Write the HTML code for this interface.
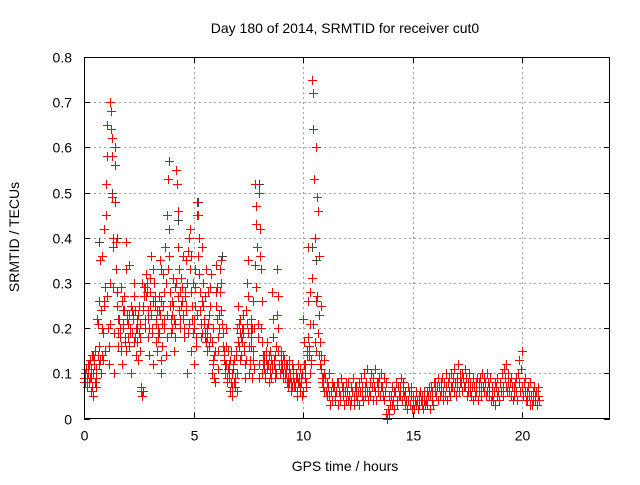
<!DOCTYPE html>
<html><head><meta charset="utf-8"><style>
body{margin:0;background:#fff}
svg text{font-family:"Liberation Sans",sans-serif;font-size:14px;fill:#000}
</style></head><body>
<svg id="chart" width="640" height="480" xmlns="http://www.w3.org/2000/svg">
<text x="345" y="33" text-anchor="middle">Day 180 of 2014, SRMTID for receiver cut0</text>
<text x="345" y="471" text-anchor="middle">GPS time / hours</text>
<text transform="translate(19,237) rotate(-90)" text-anchor="middle">SRMTID / TECUs</text>
<g id="grid"></g>
<g id="ticks"></g>
<g id="gray"></g>
<g id="red"></g>
<rect x="84.5" y="57.5" width="525" height="361" fill="none" stroke="#000" stroke-width="1"/>
</svg>
<script>
const xTicks=[0,5,10,15,20];
const yTicks=[0,0.1,0.2,0.3,0.4,0.5,0.6,0.7,0.8];
const yTickLabels=["0","0.1","0.2","0.3","0.4","0.5","0.6","0.7","0.8"];
const binStarts=[0,0.2,0.4,0.6,0.8,1.0,1.2,1.4,1.6,1.8,2.0,2.2,2.4,2.6,2.8,3.0,3.2,3.4,3.6,3.8,4.0,4.2,4.4,4.6,4.8,5.0,5.2,5.4,5.6,5.8,6.0,6.2,6.4,6.6,6.8,7.0,7.2,7.4,7.6,7.8,8.0,8.2,8.4,8.6,8.8,9.0,9.2,9.4,9.6,9.8,10.0,10.2,10.4,10.6,10.8,11.0,11.2,11.4,11.6,11.8,12.0,12.2,12.4,12.6,12.8,13.0,13.2,13.4,13.6,13.8,14.0,14.2,14.4,14.6,14.8,15.0,15.2,15.4,15.6,15.8,16.0,16.2,16.4,16.6,16.8,17.0,17.2,17.4,17.6,17.8,18.0,18.2,18.4,18.6,18.8,19.0,19.2,19.4,19.6,19.8,20.0,20.2,20.4,20.6];
const redValues=[
[.09,.10,.08,.11,.07,.12],[.10,.08,.13,.06,.09,.14],[.14,.05,.12,.15,.09,.07],[.22,.14,.26,.12,.35,.10],[.20,.36,.13,.42,.26,.15],
[.52,.58,.65,.20,.12,.30],[.70,.68,.62,.49,.40,.29,.10],[.60,.56,.39,.28,.16,.22],[.22,.18,.29,.15,.12,.24],[.20,.27,.17,.33,.39,.22],
[.18,.23,.34,.20,.10,.25],[.19,.23,.30,.17,.24,.14],[.22,.20,.13,.25,.18,.15],[.06,.05,.30,.25,.27,.20],[.29,.32,.28,.22,.18,.14],
[.25,.31,.36,.20,.33,.12],[.30,.25,.22,.17,.15,.20],[.24,.27,.35,.13,.10,.21],[.32,.22,.28,.38,.14,.18],[.45,.53,.57,.42,.25,.19],
[.23,.26,.31,.15,.21,.29],[.55,.52,.46,.38,.33,.22],[.28,.31,.26,.36,.22,.18],[.28,.35,.25,.10,.37,.19],[.40,.42,.36,.15,.22,.30],
[.20,.12,.25,.33,.18,.45,.48],[.45,.40,.32,.24,.18,.26],[.38,.30,.22,.18,.27,.33],[.20,.15,.28,.23,.18,.29],[.32,.10,.13,.20,.14,.08],
[.28,.34,.22,.15,.11,.20],[.33,.35,.30,.21,.16,.13],[.14,.10,.20,.12,.08,.15],[.12,.09,.06,.15,.05,.10],[.11,.13,.08,.07,.15,.10],
[.20,.25,.16,.13,.22,.18],[.20,.23,.19,.15,.12,.09],[.24,.30,.35,.27,.10,.13],[.18,.22,.09,.15,.26,.20],[.52,.47,.43,.38,.18,.09],
[.50,.42,.33,.26,.10,.14],[.14,.11,.09,.13,.17,.12],[.12,.08,.10,.15,.13,.11],[.28,.22,.12,.09,.14,.16],[.33,.27,.20,.12,.10,.15],
[.13,.11,.09,.14,.12,.10],[.12,.10,.08,.07,.13,.11],[.10,.08,.06,.12,.09,.07],[.08,.07,.10,.05,.09,.12],[.09,.06,.11,.08,.05,.10],
[.22,.17,.12,.09,.07,.15],[.38,.26,.16,.28,.21,.12],[.75,.72,.64,.53,.40,.26],[.60,.49,.46,.36,.23,.17],[.25,.14,.09,.07,.13,.10],
[.09,.06,.05,.08,.07,.10],[.05,.03,.06,.08,.04,.07],[.07,.05,.04,.06,.08,.03],[.08,.06,.04,.05,.09,.07],[.05,.07,.03,.06,.04,.08],
[.06,.04,.08,.05,.03,.07],[.04,.06,.09,.05,.03,.07],[.05,.07,.04,.06,.08,.03],[.06,.09,.05,.07,.04,.10],[.07,.05,.08,.06,.11,.04],
[.06,.08,.05,.10,.07,.04],[.09,.07,.11,.06,.04,.08],[.08,.06,.09,.05,.07,.10],[.07,.05,.09,.04,.06,.08],[.01,.00,.02,.01,.05,.03],
[.05,.03,.07,.04,.02,.06],[.06,.08,.04,.03,.07,.05],[.07,.05,.09,.04,.06,.08],[.05,.03,.06,.04,.02,.07],[.04,.06,.03,.05,.07,.02],
[.03,.05,.02,.04,.06,.03],[.04,.02,.05,.03,.06,.04],[.03,.05,.02,.04,.06,.03],[.04,.06,.03,.05,.07,.02],[.05,.07,.04,.06,.03,.08],
[.06,.08,.05,.07,.04,.09],[.07,.05,.08,.06,.09,.04],[.06,.08,.05,.07,.10,.04],[.08,.06,.09,.05,.07,.10],[.07,.09,.06,.11,.08,.05],
[.09,.07,.12,.06,.08,.10],[.08,.10,.06,.09,.07,.11],[.07,.09,.05,.08,.06,.10],[.06,.08,.05,.07,.09,.04],[.07,.05,.08,.06,.09,.04],
[.08,.06,.09,.05,.07,.10],[.07,.09,.06,.08,.05,.10],[.06,.08,.05,.07,.09,.04],[.05,.07,.04,.06,.08,.03],[.07,.05,.09,.06,.04,.08],
[.08,.06,.10,.05,.07,.11],[.09,.07,.12,.06,.08,.10],[.06,.08,.05,.09,.07,.04],[.07,.05,.08,.06,.09,.04],[.10,.08,.13,.06,.11,.15],
[.07,.05,.08,.06,.09,.04],[.06,.04,.07,.05,.03,.08],[.05,.03,.06,.04,.07,.05],[.04,.06,.03,.05,.07,.04]];
const redValuesB=[
[.08,.11,.09,.10],[.12,.09,.11,.07],[.10,.13,.08,.11],[.21,.16,.13,.24],[.14,.19,.25,.29],
[.45,.27,.16,.21],[.64,.58,.38,.19],[.48,.33,.25,.19],[.20,.16,.26,.21],[.24,.18,.15,.23],
[.21,.16,.19,.24],[.22,.27,.18,.20],[.17,.23,.19,.21],[.07,.24,.29,.22],[.27,.30,.24,.20],
[.28,.23,.19,.26],[.27,.21,.24,.18],[.19,.23,.26,.16],[.25,.20,.30,.23],[.33,.36,.28,.22],
[.20,.25,.22,.18],[.30,.27,.24,.20],[.25,.29,.23,.20],[.27,.24,.30,.21],[.33,.28,.25,.19],
[.22,.29,.16,.23],[.36,.28,.21,.19],[.25,.21,.19,.17],[.18,.21,.16,.25],[.17,.12,.09,.15],
[.25,.29,.18,.23],[.28,.24,.19,.15],[.12,.16,.09,.11],[.10,.13,.08,.07],[.12,.09,.14,.06],
[.17,.21,.19,.14],[.17,.20,.16,.13],[.21,.19,.16,.12],[.16,.20,.13,.11],[.34,.29,.21,.12],
[.36,.20,.17,.12],[.13,.10,.15,.11],[.14,.11,.09,.12],[.18,.13,.11,.10],[.23,.15,.12,.11],
[.12,.10,.13,.09],[.10,.12,.09,.08],[.09,.07,.11,.08],[.07,.09,.06,.08],[.08,.07,.09,.06],
[.12,.10,.08,.14],[.18,.14,.10,.13],[.31,.21,.17,.15],[.27,.19,.14,.12],[.11,.08,.09,.06]];
const grayTimes=[0.7,1.3,1.5,2.7,3.5,4.3,5.2,6.3,7.6,8.0,10.4,10.6];
const grayValues=[0.39,0.50,0.40,0.06,0.33,0.44,0.48,0.36,0.20,0.52,0.38,0.35];

const NS="http://www.w3.org/2000/svg";
const X0=84,X1=610,Y0=418.5,Y1=57,XMAX=24,YMAX=0.8;
function xs(v){return X0+(X1-X0)*v/XMAX;}
function ys(v){return Y0-(Y0-Y1)*v/YMAX;}
function mk(tag,attrs,parent){const e=document.createElementNS(NS,tag);for(const k in attrs)e.setAttribute(k,attrs[k]);parent.appendChild(e);return e;}
const grid=document.getElementById('grid'),ticks=document.getElementById('ticks');
xTicks.forEach(t=>{
  const x=Math.round(xs(t))+0.5;
  if(t>0){const g=mk('line',{x1:x,x2:x,y1:Y1,y2:Y0,stroke:'#a0a0a0','stroke-dasharray':'2,3'},grid);
  
  }
  mk('line',{x1:x,x2:x,y1:Y0,y2:Y0-6,stroke:'#000'},ticks);
  mk('line',{x1:x,x2:x,y1:Y1,y2:Y1+6,stroke:'#000'},ticks);
  const l=mk('text',{x:x,y:Y0+22,'text-anchor':'middle'},ticks);l.textContent=String(t);
  
  
});
yTicks.forEach((t,i)=>{
  const y=Math.round(ys(t))+0.5;
  if(i>0&&i<yTicks.length-1){const g=mk('line',{x1:X0,x2:X1,y1:y,y2:y,stroke:'#a0a0a0','stroke-dasharray':'2,3'},grid);
  
  }
  mk('line',{x1:X0,x2:X0+6,y1:y,y2:y,stroke:'#000'},ticks);
  mk('line',{x1:X1,x2:X1-6,y1:y,y2:y,stroke:'#000'},ticks);
  const l=mk('text',{x:X0-12,y:y+5,'text-anchor':'end'},ticks);l.textContent=yTickLabels[i];
  
  
});
function plus(g,t,v,col){
  const x=Math.round(xs(t)),y=Math.round(ys(v));
  const p=mk('path',{d:`M${x-4},${y}h9v1h-9zM${x},${y-4}h1v9h-1z`,fill:col},g);
  
  
}
const gg=document.getElementById('gray');
grayTimes.forEach((t,i)=>plus(gg,t,grayValues[i],'#404040'));
const rg=document.getElementById('red');
binStarts.forEach((b,i)=>{const vals=redValues[i];vals.forEach((v,j)=>plus(rg,b+j*0.2/vals.length,v,'#ff0000'));});
binStarts.forEach((b,i)=>{const vals=redValuesB[i];if(!vals)return;vals.forEach((v,j)=>plus(rg,b+0.02+j*0.2/vals.length,v,'#ff0000'));});
</script>
</body></html>
